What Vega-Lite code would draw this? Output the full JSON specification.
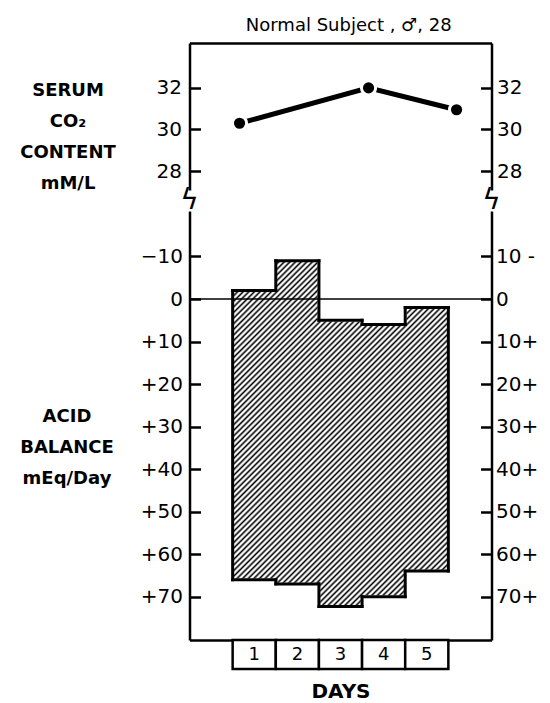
{
  "$schema": "https://vega.github.io/schema/vega-lite/v6.json",
  "padding": {"left": 19.5, "top": 17, "right": 0, "bottom": 0},
  "background": "white",
  "title": {"text": "Normal Subject , ♂, 28", "anchor": "middle", "dx": 70, "fontSize": 18, "fontWeight": "normal", "font": "DejaVu Sans", "color": "black", "offset": 8},
  "config": {
    "view": {"stroke": null},
    "font": "DejaVu Sans",
    "axis": {"grid": false, "domainColor": "black", "tickColor": "black", "labelColor": "black", "titleColor": "black", "labelFont": "DejaVu Sans", "titleFont": "DejaVu Sans", "domainWidth": 2.5, "tickWidth": 2.5, "labelFontSize": 20}
  },
  "bounds": "flush",
  "spacing": 0,
  "resolve": {"scale": {"x": "independent", "y": "independent"}},
  "vconcat": [
    {
      "width": 302, "height": 168,
      "data": {"values": [{"day": 0.66, "co2": 30.3}, {"day": 3.65, "co2": 32.0}, {"day": 5.69, "co2": 30.95}]},
      "resolve": {"axis": {"x": "independent", "y": "independent"}},
      "layer": [
        {"mark": {"type": "line", "color": "black", "strokeWidth": 5},
         "encoding": {
           "x": {"field": "day", "type": "quantitative", "scale": {"domain": [-0.5, 6.5], "nice": false, "zero": false}, "axis": {"orient": "top", "ticks": false, "labels": false, "title": null, "domain": true}},
           "y": {"field": "co2", "type": "quantitative", "scale": {"domain": [27.09, 34.16], "range": [147, 0], "nice": false, "zero": false},
                 "axis": {"orient": "left", "values": [28, 30, 32], "tickSize": -11, "labelPadding": 19, "title": ["SERUM", "CO₂", "CONTENT", "mM/L"], "titleAngle": 0, "titleAlign": "center", "titleBaseline": "middle", "titleX": -122, "titleY": 47, "titleFontSize": 18, "titleFontWeight": "bold", "titleLineHeight": 31}}
         }},
        {"mark": {"type": "point", "filled": true, "fill": "black", "stroke": "white", "strokeWidth": 3, "size": 200, "opacity": 1},
         "encoding": {
           "x": {"field": "day", "type": "quantitative", "scale": {"domain": [-0.5, 6.5], "nice": false, "zero": false}, "axis": null},
           "y": {"field": "co2", "type": "quantitative", "scale": {"domain": [27.09, 34.16], "range": [147, 0], "nice": false, "zero": false},
                 "axis": {"orient": "right", "values": [28, 30, 32], "tickSize": -11, "labelPadding": 16, "title": null}}
         }},
        {"data": {"values": [{}]}, "mark": {"type": "text", "text": "ϟ", "fontSize": 28, "color": "black"},
         "encoding": {
           "x": {"datum": -0.5, "type": "quantitative", "scale": {"domain": [-0.5, 6.5], "nice": false, "zero": false}, "axis": null},
           "y": {"datum": 26.58, "type": "quantitative", "scale": {"domain": [27.09, 34.16], "range": [147, 0], "nice": false, "zero": false}, "axis": null}
         }},
        {"data": {"values": [{}]}, "mark": {"type": "text", "text": "ϟ", "fontSize": 28, "color": "black"},
         "encoding": {
           "x": {"datum": 6.5, "type": "quantitative", "scale": {"domain": [-0.5, 6.5], "nice": false, "zero": false}, "axis": null},
           "y": {"datum": 26.58, "type": "quantitative", "scale": {"domain": [27.09, 34.16], "range": [147, 0], "nice": false, "zero": false}, "axis": null}
         }}
      ]
    },
    {
      "width": 302, "height": 429,
      "data": {"values": [
        {"day": 1, "top": -2, "bottom": 66},
        {"day": 2, "top": -9, "bottom": 67},
        {"day": 3, "top": 5, "bottom": 72.3},
        {"day": 4, "top": 6, "bottom": 70},
        {"day": 5, "top": 2, "bottom": 64}
      ]},
      "resolve": {"axis": {"x": "independent", "y": "independent"}},
      "layer": [
        {"transform": [{"aggregate": [{"op": "min", "field": "day", "as": "d0"}, {"op": "max", "field": "day", "as": "d1"}, {"op": "min", "field": "top", "as": "t0"}, {"op": "max", "field": "bottom", "as": "b1"}]}],
         "mark": {"type": "rect", "strokeWidth": 0, "fill": {"gradient": "linear", "x1": 0, "y1": 0, "x2": 0.729, "y2": 1.169, "stops": [
{"offset":0,"color":"#fff"},{"offset":0.004,"color":"#000"},{"offset":0.008,"color":"#fff"},
{"offset":0.01,"color":"#fff"},{"offset":0.014,"color":"#000"},{"offset":0.018,"color":"#fff"},
{"offset":0.02,"color":"#fff"},{"offset":0.024,"color":"#000"},{"offset":0.028,"color":"#fff"},
{"offset":0.03,"color":"#fff"},{"offset":0.034,"color":"#000"},{"offset":0.038,"color":"#fff"},
{"offset":0.04,"color":"#fff"},{"offset":0.044,"color":"#000"},{"offset":0.048,"color":"#fff"},
{"offset":0.05,"color":"#fff"},{"offset":0.054,"color":"#000"},{"offset":0.058,"color":"#fff"},
{"offset":0.06,"color":"#fff"},{"offset":0.064,"color":"#000"},{"offset":0.068,"color":"#fff"},
{"offset":0.07,"color":"#fff"},{"offset":0.074,"color":"#000"},{"offset":0.078,"color":"#fff"},
{"offset":0.08,"color":"#fff"},{"offset":0.084,"color":"#000"},{"offset":0.088,"color":"#fff"},
{"offset":0.09,"color":"#fff"},{"offset":0.094,"color":"#000"},{"offset":0.098,"color":"#fff"},
{"offset":0.1,"color":"#fff"},{"offset":0.104,"color":"#000"},{"offset":0.108,"color":"#fff"},
{"offset":0.11,"color":"#fff"},{"offset":0.114,"color":"#000"},{"offset":0.118,"color":"#fff"},
{"offset":0.12,"color":"#fff"},{"offset":0.124,"color":"#000"},{"offset":0.128,"color":"#fff"},
{"offset":0.13,"color":"#fff"},{"offset":0.134,"color":"#000"},{"offset":0.138,"color":"#fff"},
{"offset":0.14,"color":"#fff"},{"offset":0.144,"color":"#000"},{"offset":0.148,"color":"#fff"},
{"offset":0.15,"color":"#fff"},{"offset":0.154,"color":"#000"},{"offset":0.158,"color":"#fff"},
{"offset":0.16,"color":"#fff"},{"offset":0.164,"color":"#000"},{"offset":0.168,"color":"#fff"},
{"offset":0.17,"color":"#fff"},{"offset":0.174,"color":"#000"},{"offset":0.178,"color":"#fff"},
{"offset":0.18,"color":"#fff"},{"offset":0.184,"color":"#000"},{"offset":0.188,"color":"#fff"},
{"offset":0.19,"color":"#fff"},{"offset":0.194,"color":"#000"},{"offset":0.198,"color":"#fff"},
{"offset":0.2,"color":"#fff"},{"offset":0.204,"color":"#000"},{"offset":0.208,"color":"#fff"},
{"offset":0.21,"color":"#fff"},{"offset":0.214,"color":"#000"},{"offset":0.218,"color":"#fff"},
{"offset":0.22,"color":"#fff"},{"offset":0.224,"color":"#000"},{"offset":0.228,"color":"#fff"},
{"offset":0.23,"color":"#fff"},{"offset":0.234,"color":"#000"},{"offset":0.238,"color":"#fff"},
{"offset":0.24,"color":"#fff"},{"offset":0.244,"color":"#000"},{"offset":0.248,"color":"#fff"},
{"offset":0.25,"color":"#fff"},{"offset":0.254,"color":"#000"},{"offset":0.258,"color":"#fff"},
{"offset":0.26,"color":"#fff"},{"offset":0.264,"color":"#000"},{"offset":0.268,"color":"#fff"},
{"offset":0.27,"color":"#fff"},{"offset":0.274,"color":"#000"},{"offset":0.278,"color":"#fff"},
{"offset":0.28,"color":"#fff"},{"offset":0.284,"color":"#000"},{"offset":0.288,"color":"#fff"},
{"offset":0.29,"color":"#fff"},{"offset":0.294,"color":"#000"},{"offset":0.298,"color":"#fff"},
{"offset":0.3,"color":"#fff"},{"offset":0.304,"color":"#000"},{"offset":0.308,"color":"#fff"},
{"offset":0.31,"color":"#fff"},{"offset":0.314,"color":"#000"},{"offset":0.318,"color":"#fff"},
{"offset":0.32,"color":"#fff"},{"offset":0.324,"color":"#000"},{"offset":0.328,"color":"#fff"},
{"offset":0.33,"color":"#fff"},{"offset":0.334,"color":"#000"},{"offset":0.338,"color":"#fff"},
{"offset":0.34,"color":"#fff"},{"offset":0.344,"color":"#000"},{"offset":0.348,"color":"#fff"},
{"offset":0.35,"color":"#fff"},{"offset":0.354,"color":"#000"},{"offset":0.358,"color":"#fff"},
{"offset":0.36,"color":"#fff"},{"offset":0.364,"color":"#000"},{"offset":0.368,"color":"#fff"},
{"offset":0.37,"color":"#fff"},{"offset":0.374,"color":"#000"},{"offset":0.378,"color":"#fff"},
{"offset":0.38,"color":"#fff"},{"offset":0.384,"color":"#000"},{"offset":0.388,"color":"#fff"},
{"offset":0.39,"color":"#fff"},{"offset":0.394,"color":"#000"},{"offset":0.398,"color":"#fff"},
{"offset":0.4,"color":"#fff"},{"offset":0.404,"color":"#000"},{"offset":0.408,"color":"#fff"},
{"offset":0.41,"color":"#fff"},{"offset":0.414,"color":"#000"},{"offset":0.418,"color":"#fff"},
{"offset":0.42,"color":"#fff"},{"offset":0.424,"color":"#000"},{"offset":0.428,"color":"#fff"},
{"offset":0.43,"color":"#fff"},{"offset":0.434,"color":"#000"},{"offset":0.438,"color":"#fff"},
{"offset":0.44,"color":"#fff"},{"offset":0.444,"color":"#000"},{"offset":0.448,"color":"#fff"},
{"offset":0.45,"color":"#fff"},{"offset":0.454,"color":"#000"},{"offset":0.458,"color":"#fff"},
{"offset":0.46,"color":"#fff"},{"offset":0.464,"color":"#000"},{"offset":0.468,"color":"#fff"},
{"offset":0.47,"color":"#fff"},{"offset":0.474,"color":"#000"},{"offset":0.478,"color":"#fff"},
{"offset":0.48,"color":"#fff"},{"offset":0.484,"color":"#000"},{"offset":0.488,"color":"#fff"},
{"offset":0.49,"color":"#fff"},{"offset":0.494,"color":"#000"},{"offset":0.498,"color":"#fff"},
{"offset":0.5,"color":"#fff"},{"offset":0.504,"color":"#000"},{"offset":0.508,"color":"#fff"},
{"offset":0.51,"color":"#fff"},{"offset":0.514,"color":"#000"},{"offset":0.518,"color":"#fff"},
{"offset":0.52,"color":"#fff"},{"offset":0.524,"color":"#000"},{"offset":0.528,"color":"#fff"},
{"offset":0.53,"color":"#fff"},{"offset":0.534,"color":"#000"},{"offset":0.538,"color":"#fff"},
{"offset":0.54,"color":"#fff"},{"offset":0.544,"color":"#000"},{"offset":0.548,"color":"#fff"},
{"offset":0.55,"color":"#fff"},{"offset":0.554,"color":"#000"},{"offset":0.558,"color":"#fff"},
{"offset":0.56,"color":"#fff"},{"offset":0.564,"color":"#000"},{"offset":0.568,"color":"#fff"},
{"offset":0.57,"color":"#fff"},{"offset":0.574,"color":"#000"},{"offset":0.578,"color":"#fff"},
{"offset":0.58,"color":"#fff"},{"offset":0.584,"color":"#000"},{"offset":0.588,"color":"#fff"},
{"offset":0.59,"color":"#fff"},{"offset":0.594,"color":"#000"},{"offset":0.598,"color":"#fff"},
{"offset":0.6,"color":"#fff"},{"offset":0.604,"color":"#000"},{"offset":0.608,"color":"#fff"},
{"offset":0.61,"color":"#fff"},{"offset":0.614,"color":"#000"},{"offset":0.618,"color":"#fff"},
{"offset":0.62,"color":"#fff"},{"offset":0.624,"color":"#000"},{"offset":0.628,"color":"#fff"},
{"offset":0.63,"color":"#fff"},{"offset":0.634,"color":"#000"},{"offset":0.638,"color":"#fff"},
{"offset":0.64,"color":"#fff"},{"offset":0.644,"color":"#000"},{"offset":0.648,"color":"#fff"},
{"offset":0.65,"color":"#fff"},{"offset":0.654,"color":"#000"},{"offset":0.658,"color":"#fff"},
{"offset":0.66,"color":"#fff"},{"offset":0.664,"color":"#000"},{"offset":0.668,"color":"#fff"},
{"offset":0.67,"color":"#fff"},{"offset":0.674,"color":"#000"},{"offset":0.678,"color":"#fff"},
{"offset":0.68,"color":"#fff"},{"offset":0.684,"color":"#000"},{"offset":0.688,"color":"#fff"},
{"offset":0.69,"color":"#fff"},{"offset":0.694,"color":"#000"},{"offset":0.698,"color":"#fff"},
{"offset":0.7,"color":"#fff"},{"offset":0.704,"color":"#000"},{"offset":0.708,"color":"#fff"},
{"offset":0.71,"color":"#fff"},{"offset":0.714,"color":"#000"},{"offset":0.718,"color":"#fff"},
{"offset":0.72,"color":"#fff"},{"offset":0.724,"color":"#000"},{"offset":0.728,"color":"#fff"},
{"offset":0.73,"color":"#fff"},{"offset":0.734,"color":"#000"},{"offset":0.738,"color":"#fff"},
{"offset":0.74,"color":"#fff"},{"offset":0.744,"color":"#000"},{"offset":0.748,"color":"#fff"},
{"offset":0.75,"color":"#fff"},{"offset":0.754,"color":"#000"},{"offset":0.758,"color":"#fff"},
{"offset":0.76,"color":"#fff"},{"offset":0.764,"color":"#000"},{"offset":0.768,"color":"#fff"},
{"offset":0.77,"color":"#fff"},{"offset":0.774,"color":"#000"},{"offset":0.778,"color":"#fff"},
{"offset":0.78,"color":"#fff"},{"offset":0.784,"color":"#000"},{"offset":0.788,"color":"#fff"},
{"offset":0.79,"color":"#fff"},{"offset":0.794,"color":"#000"},{"offset":0.798,"color":"#fff"},
{"offset":0.8,"color":"#fff"},{"offset":0.804,"color":"#000"},{"offset":0.808,"color":"#fff"},
{"offset":0.81,"color":"#fff"},{"offset":0.814,"color":"#000"},{"offset":0.818,"color":"#fff"},
{"offset":0.82,"color":"#fff"},{"offset":0.824,"color":"#000"},{"offset":0.828,"color":"#fff"},
{"offset":0.83,"color":"#fff"},{"offset":0.834,"color":"#000"},{"offset":0.838,"color":"#fff"},
{"offset":0.84,"color":"#fff"},{"offset":0.844,"color":"#000"},{"offset":0.848,"color":"#fff"},
{"offset":0.85,"color":"#fff"},{"offset":0.854,"color":"#000"},{"offset":0.858,"color":"#fff"},
{"offset":0.86,"color":"#fff"},{"offset":0.864,"color":"#000"},{"offset":0.868,"color":"#fff"},
{"offset":0.87,"color":"#fff"},{"offset":0.874,"color":"#000"},{"offset":0.878,"color":"#fff"},
{"offset":0.88,"color":"#fff"},{"offset":0.884,"color":"#000"},{"offset":0.888,"color":"#fff"},
{"offset":0.89,"color":"#fff"},{"offset":0.894,"color":"#000"},{"offset":0.898,"color":"#fff"},
{"offset":0.9,"color":"#fff"},{"offset":0.904,"color":"#000"},{"offset":0.908,"color":"#fff"},
{"offset":0.91,"color":"#fff"},{"offset":0.914,"color":"#000"},{"offset":0.918,"color":"#fff"},
{"offset":0.92,"color":"#fff"},{"offset":0.924,"color":"#000"},{"offset":0.928,"color":"#fff"},
{"offset":0.93,"color":"#fff"},{"offset":0.934,"color":"#000"},{"offset":0.938,"color":"#fff"},
{"offset":0.94,"color":"#fff"},{"offset":0.944,"color":"#000"},{"offset":0.948,"color":"#fff"},
{"offset":0.95,"color":"#fff"},{"offset":0.954,"color":"#000"},{"offset":0.958,"color":"#fff"},
{"offset":0.96,"color":"#fff"},{"offset":0.964,"color":"#000"},{"offset":0.968,"color":"#fff"},
{"offset":0.97,"color":"#fff"},{"offset":0.974,"color":"#000"},{"offset":0.978,"color":"#fff"},
{"offset":0.98,"color":"#fff"},{"offset":0.984,"color":"#000"},{"offset":0.988,"color":"#fff"},
{"offset":0.99,"color":"#fff"},{"offset":0.994,"color":"#000"},{"offset":0.998,"color":"#fff"}
         ]}},
         "encoding": {
           "x": {"field": "d0", "type": "ordinal", "bandPosition": 0, "scale": {"domain": [0, 1, 2, 3, 4, 5, 6], "paddingInner": 0, "paddingOuter": 0}, "axis": {"orient": "bottom", "domain": true, "ticks": false, "labels": false, "title": null}},
           "x2": {"field": "d1", "bandPosition": 1},
           "y": {"field": "t0", "type": "quantitative", "scale": {"domain": [-20.7, 80.2], "reverse": true, "nice": false, "zero": false}, "axis": null},
           "y2": {"field": "b1"}
         }},
        {"transform": [{"joinaggregate": [{"op": "min", "field": "top", "as": "t0"}, {"op": "max", "field": "bottom", "as": "b1"}]}],
         "mark": {"type": "rect", "fill": "white", "stroke": "white", "strokeWidth": 2.5},
         "encoding": {
           "x": {"field": "day", "type": "ordinal", "scale": {"domain": [0, 1, 2, 3, 4, 5, 6], "paddingInner": 0, "paddingOuter": 0}, "axis": null},
           "y": {"field": "t0", "type": "quantitative", "scale": {"domain": [-20.7, 80.2], "reverse": true, "nice": false, "zero": false}, "axis": null},
           "y2": {"field": "top"}
         }},
        {"transform": [{"joinaggregate": [{"op": "min", "field": "top", "as": "t0"}, {"op": "max", "field": "bottom", "as": "b1"}]}],
         "mark": {"type": "rect", "fill": "white", "stroke": "white", "strokeWidth": 2.5},
         "encoding": {
           "x": {"field": "day", "type": "ordinal", "scale": {"domain": [0, 1, 2, 3, 4, 5, 6], "paddingInner": 0, "paddingOuter": 0}, "axis": null},
           "y": {"field": "bottom", "type": "quantitative", "scale": {"domain": [-20.7, 80.2], "reverse": true, "nice": false, "zero": false}, "axis": null},
           "y2": {"field": "b1"}
         }},
        {"data": {"values": [{}]},
         "mark": {"type": "rule", "strokeWidth": 1.5, "color": "black"},
         "encoding": {
           "y": {"datum": 0, "type": "quantitative", "scale": {"domain": [-20.7, 80.2], "reverse": true, "nice": false, "zero": false}, "axis": null}
         }},
        {"mark": {"type": "rule", "strokeWidth": 3, "color": "black", "strokeCap": "square"},
         "encoding": {
           "x": {"field": "day", "type": "ordinal", "bandPosition": 0, "scale": {"domain": [0, 1, 2, 3, 4, 5, 6], "paddingInner": 0, "paddingOuter": 0}, "axis": null},
           "x2": {"field": "day", "bandPosition": 1},
           "y": {"field": "top", "type": "quantitative", "scale": {"domain": [-20.7, 80.2], "reverse": true, "nice": false, "zero": false},
                 "axis": {"orient": "left", "values": [-10, 0, 10, 20, 30, 40, 50, 60, 70], "labelExpr": "datum.value > 0 ? '+' + datum.value : (datum.value < 0 ? '−' + (-datum.value) : '0')", "tickSize": -11, "labelPadding": 18, "title": ["ACID", "BALANCE", "mEq/Day"], "titleAngle": 0, "titleAlign": "center", "titleBaseline": "middle", "titleX": -123, "titleY": 205, "titleFontSize": 18, "titleFontWeight": "bold", "titleLineHeight": 31}}
         }},
        {"mark": {"type": "rule", "strokeWidth": 3, "color": "black", "strokeCap": "square"},
         "encoding": {
           "x": {"field": "day", "type": "ordinal", "bandPosition": 0, "scale": {"domain": [0, 1, 2, 3, 4, 5, 6], "paddingInner": 0, "paddingOuter": 0}, "axis": null},
           "x2": {"field": "day", "bandPosition": 1},
           "y": {"field": "bottom", "type": "quantitative", "scale": {"domain": [-20.7, 80.2], "reverse": true, "nice": false, "zero": false},
                 "axis": {"orient": "right", "values": [-10, 0, 10, 20, 30, 40, 50, 60, 70], "labelExpr": "datum.value > 0 ? datum.value + '+' : (datum.value < 0 ? (-datum.value) + ' -' : '0')", "tickSize": -11, "labelPadding": 15, "title": null}}
         }},
        {"transform": [{"window": [{"op": "lead", "field": "top", "as": "ntop"}, {"op": "lead", "field": "bottom", "as": "nbot"}], "sort": [{"field": "day"}]}, {"filter": "datum.ntop != null"}],
         "mark": {"type": "rule", "strokeWidth": 3, "color": "black", "strokeCap": "square"},
         "encoding": {
           "x": {"field": "day", "type": "ordinal", "bandPosition": 1, "scale": {"domain": [0, 1, 2, 3, 4, 5, 6], "paddingInner": 0, "paddingOuter": 0}, "axis": null},
           "y": {"field": "top", "type": "quantitative", "scale": {"domain": [-20.7, 80.2], "reverse": true, "nice": false, "zero": false}, "axis": null},
           "y2": {"field": "ntop"}
         }},
        {"transform": [{"window": [{"op": "lead", "field": "top", "as": "ntop"}, {"op": "lead", "field": "bottom", "as": "nbot"}], "sort": [{"field": "day"}]}, {"filter": "datum.nbot != null"}],
         "mark": {"type": "rule", "strokeWidth": 3, "color": "black", "strokeCap": "square"},
         "encoding": {
           "x": {"field": "day", "type": "ordinal", "bandPosition": 1, "scale": {"domain": [0, 1, 2, 3, 4, 5, 6], "paddingInner": 0, "paddingOuter": 0}, "axis": null},
           "y": {"field": "bottom", "type": "quantitative", "scale": {"domain": [-20.7, 80.2], "reverse": true, "nice": false, "zero": false}, "axis": null},
           "y2": {"field": "nbot"}
         }},
        {"transform": [{"window": [{"op": "lag", "field": "top", "as": "ptop"}], "sort": [{"field": "day"}]}, {"filter": "datum.ptop == null"}],
         "mark": {"type": "rule", "strokeWidth": 3, "color": "black", "strokeCap": "square"},
         "encoding": {
           "x": {"field": "day", "type": "ordinal", "bandPosition": 0, "scale": {"domain": [0, 1, 2, 3, 4, 5, 6], "paddingInner": 0, "paddingOuter": 0}, "axis": null},
           "y": {"field": "top", "type": "quantitative", "scale": {"domain": [-20.7, 80.2], "reverse": true, "nice": false, "zero": false}, "axis": null},
           "y2": {"field": "bottom"}
         }},
        {"transform": [{"window": [{"op": "lead", "field": "top", "as": "ntop"}], "sort": [{"field": "day"}]}, {"filter": "datum.ntop == null"}],
         "mark": {"type": "rule", "strokeWidth": 3, "color": "black", "strokeCap": "square"},
         "encoding": {
           "x": {"field": "day", "type": "ordinal", "bandPosition": 1, "scale": {"domain": [0, 1, 2, 3, 4, 5, 6], "paddingInner": 0, "paddingOuter": 0}, "axis": null},
           "y": {"field": "top", "type": "quantitative", "scale": {"domain": [-20.7, 80.2], "reverse": true, "nice": false, "zero": false}, "axis": null},
           "y2": {"field": "bottom"}
         }}
      ]
    },
    {
      "width": 302, "height": 29,
      "data": {"values": [{"day": 1}, {"day": 2}, {"day": 3}, {"day": 4}, {"day": 5}]},
      "resolve": {"axis": {"x": "independent"}},
      "layer": [
        {"mark": {"type": "rect", "fill": "white", "stroke": "black", "strokeWidth": 2.5},
         "encoding": {
           "x": {"field": "day", "type": "ordinal", "scale": {"domain": [0, 1, 2, 3, 4, 5, 6], "paddingInner": 0, "paddingOuter": 0},
                 "axis": {"title": "DAYS", "labels": false, "ticks": false, "domain": false, "titleFontSize": 20, "titleFontWeight": "bold", "titlePadding": 12}}
         }},
        {"mark": {"type": "text", "fontSize": 18, "color": "black"},
         "encoding": {
           "x": {"field": "day", "type": "ordinal", "scale": {"domain": [0, 1, 2, 3, 4, 5, 6], "paddingInner": 0, "paddingOuter": 0}, "axis": null},
           "text": {"field": "day", "type": "ordinal"}
         }}
      ]
    }
  ]
}
